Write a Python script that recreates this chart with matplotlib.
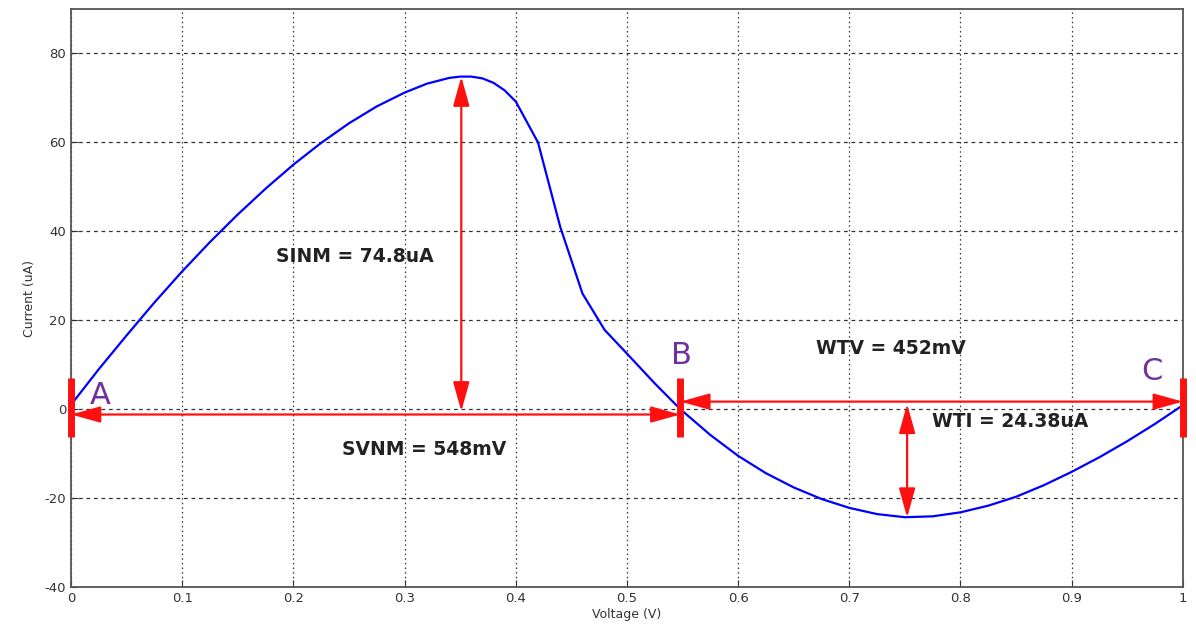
import numpy as np
import matplotlib
matplotlib.use("Agg")
import matplotlib.pyplot as plt
from matplotlib.patches import FancyArrowPatch

plt.rcParams['axes.unicode_minus'] = False

# I-V curve
volt = [0, 0.025, 0.05, 0.075, 0.1, 0.125, 0.15, 0.175, 0.2, 0.225, 0.25, 0.275,
        0.3, 0.32, 0.34, 0.35, 0.36, 0.37, 0.38, 0.39, 0.40, 0.42, 0.44, 0.46,
        0.48, 0.50, 0.525, 0.548, 0.575, 0.6, 0.625, 0.65, 0.675, 0.7, 0.725,
        0.75, 0.775, 0.8, 0.825, 0.85, 0.875, 0.9, 0.925, 0.95, 0.975, 1.0]
current = [1, 9, 16.6, 24, 31, 37.6, 43.8, 49.6, 55, 59.9, 64.3, 68.1,
           71.2, 73.2, 74.5, 74.8, 74.8, 74.4, 73.4, 71.7, 69.2, 60, 41, 26,
           17.8, 12.5, 5.8, 0, -5.8, -10.5, -14.4, -17.6, -20.2, -22.2, -23.6,
           -24.3, -24.1, -23.2, -21.7, -19.7, -17.1, -14.1, -10.8, -7.2, -3.3, 0.9]

xticks = [0, 0.1, 0.2, 0.3, 0.4, 0.5, 0.6, 0.7, 0.8, 0.9, 1]
xticklabels = ['0', '0.1', '0.2', '0.3', '0.4', '0.5', '0.6', '0.7', '0.8', '0.9', '1']
yticks = [-40, -20, 0, 20, 40, 60, 80]

# points A, B, C and the margins
pt_a, pt_b, pt_c = 0.0, 0.548, 1.0
sinm = 74.8
wti_low = -24.38
wti_x = 0.752

red = '#ff1010'
purple = '#7030a0'

fig = plt.figure(figsize=(11.96, 6.31), dpi=100)
ax = fig.add_axes([0.0594, 0.0697, 0.9296, 0.916])

ax.plot(volt, current, color='#0000ff', lw=1.6, zorder=3)

ax.set_xlim(0, 1)
ax.set_ylim(-40, 90)
ax.set_xticks(xticks)
ax.set_xticklabels(xticklabels)
ax.set_yticks(yticks)
ax.tick_params(direction='in', length=5, labelsize=9.5, colors='#333333')
for s in ax.spines.values():
    s.set_color('#555555')
    s.set_linewidth(1.3)

# matlab style grid
ax.xaxis.grid(True, color='#333333', lw=0.9, linestyle=(0, (1.2, 2.5)))
ax.yaxis.grid(True, color='#333333', lw=0.9, linestyle=(0, (3, 3)))
ax.set_axisbelow(True)

ax.set_xlabel('Voltage (V)', fontsize=9, color='#333333', labelpad=2)
ax.set_ylabel('Current (uA)', fontsize=9, color='#333333', labelpad=6)


def arrow(x0, y0, x1, y1):
    a = FancyArrowPatch((x0, y0), (x1, y1),
                        arrowstyle='<|-|>,head_length=0.9,head_width=0.25',
                        mutation_scale=20, color=red, lw=1.6,
                        shrinkA=0, shrinkB=0, zorder=4, clip_on=False)
    ax.add_patch(a)


arrow(pt_a, -1.2, pt_b, -1.2)
arrow(0.351, -0.5, 0.351, sinm)
arrow(pt_b, 1.7, pt_c, 1.7)
arrow(wti_x, 1.2, wti_x, wti_low)

# thick bars at A, B, C
for xb in [pt_a, pt_b, pt_c]:
    ax.plot([xb, xb], [-6.3, 7.0], color=red, lw=5, solid_capstyle='butt',
            zorder=5, clip_on=False)

ax.text(0.026, 3, 'A', color=purple, fontsize=22, ha='center', va='center')
ax.text(0.549, 12, 'B', color=purple, fontsize=22, ha='center', va='center')
ax.text(0.972, 8.5, 'C', color=purple, fontsize=22, ha='center', va='center')

lab = dict(fontsize=13.5, fontweight='bold', color='#222222', ha='center', va='center')
ax.text(0.255, 34.4, 'SINM = 74.8uA', **lab)
ax.text(0.318, -9, 'SVNM = 548mV', **lab)
ax.text(0.737, 13.7, 'WTV = 452mV', **lab)
ax.text(0.845, -2.8, 'WTI = 24.38uA', **lab)

fig.savefig('out.png', dpi=100)
